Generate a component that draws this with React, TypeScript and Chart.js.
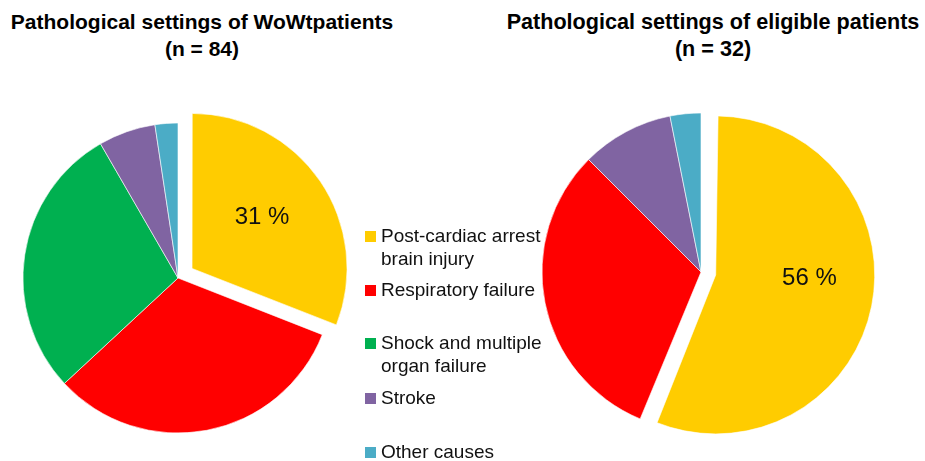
import React, { useEffect, useRef } from "react";
import { Chart, registerables } from "chart.js";

Chart.register(...registerables);

const categories = [
  "Post-cardiac arrest brain injury",
  "Respiratory failure",
  "Shock and multiple organ failure",
  "Stroke",
  "Other causes",
];
const legendLines = [
  ["Post-cardiac arrest", "brain injury"],
  ["Respiratory failure"],
  ["Shock and multiple", "organ failure"],
  ["Stroke"],
  ["Other causes"],
];
const colors = ["#FFCC00", "#FF0000", "#00B050", "#8064A2", "#4BACC6"];
const wowtCounts = [26, 27, 24, 5, 2];
const eligibleCounts = [18, 10, 0, 3, 1];
const wowtTitle = ["Pathological settings of WoWtpatients", "(n = 84)"];
const eligibleTitle = ["Pathological settings of eligible patients", "(n = 32)"];
const wowtLabel = "31 %";
const eligibleLabel = "56 %";

const FONT = "'Liberation Sans', Arial, Helvetica, sans-serif";

// Chart.js translates an offset arc by offset/4 and, for wide arcs, enlarges
// its radius; keep the exploded slice at the same radius as the others.
const explodePlugin = {
  id: "explodeFix",
  afterDatasetUpdate(chart: any) {
    const meta = chart.getDatasetMeta(0);
    meta.data.forEach((arc: any) => {
      const off = arc.options && arc.options.offset ? arc.options.offset / 4 : 0;
      if (!off) return;
      const fix = 1 - Math.sin(Math.min(Math.PI, arc.circumference || 0));
      arc.outerRadius = arc.outerRadius - off * fix;
    });
  },
};

const sliceLabelPlugin = {
  id: "sliceLabel",
  afterDatasetsDraw(chart: any, _args: any, opts: any) {
    const meta = chart.getDatasetMeta(0);
    const arc: any = meta.data[0];
    if (!arc) return;
    const { x, y, startAngle, endAngle } = arc;
    const off = (arc.options.offset || 0) / 4;
    const mid = (startAngle + endAngle) / 2;
    const a = mid + (opts.shift || 0) * Math.PI / 180;
    const r = (opts.frac || 0.56) * opts.radius;
    const lx = x + Math.cos(mid) * off + Math.cos(a) * r;
    const ly = y + Math.sin(mid) * off + Math.sin(a) * r;
    const ctx = chart.ctx;
    ctx.save();
    ctx.font = `24px ${FONT}`;
    ctx.fillStyle = "#111";
    ctx.textAlign = "center";
    ctx.textBaseline = "middle";
    ctx.fillText(opts.text, lx, ly);
    ctx.restore();
  },
};

function Pie(props: {
  data: number[];
  radius: number;
  explode: number;
  label: string;
  frac: number;
  shift: number;
  size: number;
  style: React.CSSProperties;
}) {
  const ref = useRef<HTMLCanvasElement>(null);
  useEffect(() => {
    if (!ref.current) return;
    const chart = new Chart(ref.current, {
      type: "pie",
      data: {
        labels: categories,
        datasets: [
          {
            data: props.data,
            backgroundColor: colors,
            borderColor: "#ffffff",
            borderWidth: 0.6,
            offset: props.data.map((_, i) => (i === 0 ? props.explode * 4 : 0)),
            radius: props.radius,
          } as any,
        ],
      },
      options: {
        responsive: false,
        animation: false,
        events: [],
        layout: { padding: 0 },
        plugins: {
          legend: { display: false },
          tooltip: { enabled: false },
          title: { display: false },
          sliceLabel: { text: props.label, frac: props.frac, shift: props.shift, radius: props.radius },
        } as any,
      },
      plugins: [explodePlugin, sliceLabelPlugin],
    });
    return () => chart.destroy();
  }, []);
  return (
    <canvas
      ref={ref}
      width={props.size}
      height={props.size}
      style={{ position: "absolute", width: props.size, height: props.size, ...props.style }}
    />
  );
}

function Title(props: { lines: string[]; center: number; size: number }) {
  return (
    <div
      style={{
        position: "absolute",
        top: 8,
        left: props.center - 250,
        width: 500,
        textAlign: "center",
        font: `bold ${props.size}px ${FONT}`,
        lineHeight: "27px",
        color: "#000",
        whiteSpace: "nowrap",
      }}
    >
      {props.lines.map((l, i) => (
        <div key={i}>{l}</div>
      ))}
    </div>
  );
}

const legendTops = [224, 278, 331, 386, 440];

export default function App() {
  return (
    <div
      style={{
        position: "absolute",
        left: 0,
        top: 0,
        width: 925,
        height: 461,
        overflow: "hidden",
        background: "#fff",
      }}
    >
      <Pie data={wowtCounts} radius={155} explode={17} label={wowtLabel} frac={0.56} shift={-2} size={380} style={{ left: -12, top: 88 }} />
      <Pie data={eligibleCounts} radius={159} explode={15} label={eligibleLabel} frac={0.59} shift={-9} size={380} style={{ left: 511, top: 82 }} />
      <Title lines={wowtTitle} center={202} size={21} />
      <Title lines={eligibleTitle} center={713} size={21.6} />
      {legendLines.map((lines, i) => (
        <div
          key={i}
          style={{
            position: "absolute",
            left: 365,
            top: legendTops[i],
            font: `19px ${FONT}`,
            lineHeight: "23px",
            color: "#111",
            whiteSpace: "nowrap",
          }}
        >
          <span
            style={{
              position: "absolute",
              left: 0,
              top: 7,
              width: 11,
              height: 11,
              background: colors[i],
            }}
          />
          <div style={{ marginLeft: 16 }}>
            {lines.map((l, j) => (
              <div key={j}>{l}</div>
            ))}
          </div>
        </div>
      ))}
    </div>
  );
}
